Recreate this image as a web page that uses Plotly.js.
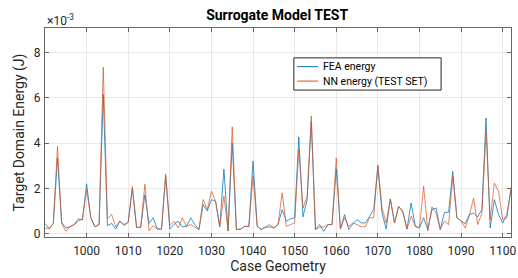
<!DOCTYPE html>
<html>
<head>
<meta charset="utf-8">
<script src="https://cdn.plot.ly/plotly-3.0.1.min.js"></script>
<style>html,body{margin:0;padding:0;background:#fff;}#chart{width:518px;height:278px;}</style>
</head>
<body>
<div id="chart"></div>
<script>
// Case geometry indices (x axis)
const caseGeometry = [990,991,992,993,994,995,996,997,998,999,
1000,1001,1002,1003,1004,1005,1006,1007,1008,1009,
1010,1011,1012,1013,1014,1015,1016,1017,1018,1019,
1020,1021,1022,1023,1024,1025,1026,1027,1028,1029,
1030,1031,1032,1033,1034,1035,1036,1037,1038,1039,
1040,1041,1042,1043,1044,1045,1046,1047,1048,1049,
1050,1051,1052,1053,1054,1055,1056,1057,1058,1059,
1060,1061,1062,1063,1064,1065,1066,1067,1068,1069,
1070,1071,1072,1073,1074,1075,1076,1077,1078,1079,
1080,1081,1082,1083,1084,1085,1086,1087,1088,1089,
1090,1091,1092,1093,1094,1095,1096,1097,1098,1099,
1100,1101,1102];

// Energies in units of 1e-3 J
const feaEnergy_e3 = [0.45,0.22,0.45,3.35,0.5,0.25,0.3,0.4,0.65,0.6,
2.2,0.7,0.3,0.4,6.15,0.35,0.45,0.2,0.55,0.4,
0.5,2.0,0.28,0.28,1.72,0.45,0.7,0.2,0.2,2.55,
0.2,0.4,0.55,0.3,0.32,0.7,0.4,0.18,1.28,1.0,
1.5,1.43,0.3,2.85,0.12,4.0,0.18,0.2,0.32,0.32,
3.2,0.32,0.18,0.28,0.3,0.25,0.4,1.06,0.55,0.65,
0.7,4.27,0.74,1.5,4.95,0.18,0.4,0.1,0.4,0.4,
2.86,0.2,0.84,0.18,0.43,0.62,0.47,0.47,0.76,1.06,
2.97,0.9,0.2,1.53,0.47,1.2,0.95,0.2,1.35,0.32,
0.25,0.7,0.18,1.06,1.13,0.18,0.94,0.94,2.75,0.7,
0.55,0.44,0.84,0.9,0.74,1.06,5.1,0.25,1.5,0.84,
0.47,0.84,1.95];

const nnEnergy_e3 = [0.25,0.22,0.45,3.85,0.45,0.1,0.3,0.4,0.55,0.65,
1.95,0.7,0.3,0.4,7.35,0.65,0.85,0.3,0.55,0.35,
0.5,2.08,0.28,0.28,2.18,0.12,0.35,0.2,0.2,2.62,
0.35,0.55,0.25,0.7,0.32,0.4,0.28,0.18,1.5,1.06,
1.87,1.43,0.3,1.65,0.12,4.72,0.18,0.2,0.32,0.32,
2.55,0.32,0.18,0.28,0.4,0.25,0.4,1.8,0.32,0.4,
0.47,3.7,1.13,1.65,5.2,0.18,0.28,0.3,0.4,0.4,
3.34,0.2,0.7,0.32,0.47,0.4,0.3,0.3,0.7,0.7,
3.04,1.13,0.47,1.53,0.47,1.2,1.0,0.2,0.76,0.32,
0.25,2.09,0.12,1.18,0.9,0.18,0.55,0.4,2.53,0.7,
0.55,0.25,0.8,1.57,0.4,0.9,4.5,0.62,2.23,1.87,
0.62,0.7,2.0];

const seriesNames = ['FEA energy', 'NN energy (TEST SET)'];
const seriesColors = ['#0072BD', '#D95319'];
const yTickVals_e3 = [0,2,4,6,8];
const xTickVals = [1000,1010,1020,1030,1040,1050,1060,1070,1080,1090,1100];

const feaJ = feaEnergy_e3.map(v => v * 1e-3);
const nnJ = nnEnergy_e3.map(v => v * 1e-3);

const font = 'Roboto, "Liberation Sans", Arial, sans-serif';
const axisCol = '#666666';
const txtCol = '#262626';

const traces = [
  {x: caseGeometry, y: feaJ, type: 'scatter', mode: 'lines', name: seriesNames[0],
   line: {color: seriesColors[0], width: 1}, opacity: 0.75, showlegend: false},
  {x: caseGeometry, y: nnJ, type: 'scatter', mode: 'lines', name: seriesNames[1],
   line: {color: seriesColors[1], width: 1}, opacity: 0.7, showlegend: false}
];

// Legend box (paper coordinates)
const lg = {x0: 0.534, x1: 0.85, y0: 0.703, y1: 0.857, lx0: 0.541, lx1: 0.586, tx: 0.592, rows: [0.815, 0.746]};

const shapes = [
  {type: 'rect', xref: 'paper', yref: 'paper', x0: lg.x0, x1: lg.x1, y0: lg.y0, y1: lg.y1,
   line: {color: txtCol, width: 1}, fillcolor: '#ffffff', layer: 'above'}
];
const annotations = [
  {text: '×10<sup>-3</sup>', xref: 'paper', yref: 'paper', x: 0, y: 1, xanchor: 'left', yanchor: 'bottom',
   showarrow: false, font: {family: font, size: 12, color: txtCol}, xshift: 0, yshift: -2}
];
seriesNames.forEach((name, i) => {
  shapes.push({type: 'line', xref: 'paper', yref: 'paper', x0: lg.lx0, x1: lg.lx1, y0: lg.rows[i], y1: lg.rows[i],
    line: {color: seriesColors[i], width: 1}, layer: 'above'});
  annotations.push({text: name, xref: 'paper', yref: 'paper', x: lg.tx, y: lg.rows[i], xanchor: 'left', yanchor: 'middle',
    showarrow: false, font: {family: font, size: 10.5, color: '#000'}});
});

const layout = {
  width: 518, height: 278,
  margin: {l: 45, r: 7, t: 28, b: 41},
  paper_bgcolor: '#fff', plot_bgcolor: '#fff',
  font: {family: font, size: 12, color: txtCol},
  showlegend: false,
  title: {text: '<b>Surrogate Model TEST</b>', font: {family: font, size: 14, color: '#000'},
          x: 0.535, xanchor: 'center', y: 0.946, yanchor: 'middle'},
  xaxis: {
    range: [990, 1102], tickvals: xTickVals,
    ticks: 'inside', ticklen: 4, tickcolor: axisCol, mirror: 'ticks',
    showline: true, linecolor: axisCol, linewidth: 1,
    showgrid: true, gridcolor: '#e8e8e8', zeroline: false,
    tickfont: {family: font, size: 12, color: txtCol}, ticklabelstandoff: 3,
    title: {text: 'Case Geometry', font: {family: font, size: 14, color: txtCol}, standoff: 1}
  },
  yaxis: {
    range: [-0.00015, 0.00908],
    tickvals: yTickVals_e3.map(v => v * 1e-3), ticktext: yTickVals_e3.map(String),
    ticks: 'inside', ticklen: 4, tickcolor: axisCol, mirror: 'ticks',
    showline: true, linecolor: axisCol, linewidth: 1,
    showgrid: true, gridcolor: '#e8e8e8', zeroline: false,
    tickfont: {family: font, size: 12, color: txtCol}, ticklabelstandoff: 1,
    title: {text: 'Target Domain Energy (J)', font: {family: font, size: 14, color: txtCol}, standoff: 5}
  },
  shapes: shapes,
  annotations: annotations
};

Plotly.newPlot('chart', traces, layout, {displayModeBar: false, staticPlot: true});
</script>
</body>
</html>
